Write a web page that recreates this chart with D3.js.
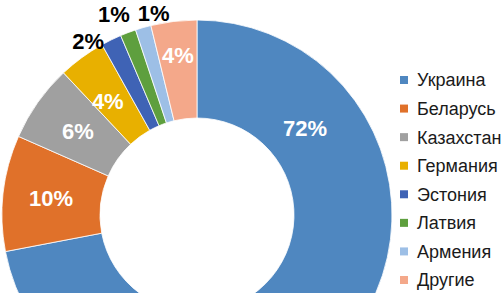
<!DOCTYPE html>
<html>
<head>
<meta charset="utf-8">
<script src="https://cdn.jsdelivr.net/npm/d3@7"></script>
<style>
  body { margin: 0; background: #fff; }
  svg { display: block; }
</style>
</head>
<body>
<svg id="chart" width="502" height="293"></svg>
<script>
// Daten
const countries = ['Украина', 'Беларусь', 'Казахстан', 'Германия', 'Эстония', 'Латвия', 'Армения', 'Другие'];
const shares = [72.0, 9.6, 6.4, 3.9, 1.7, 1.3, 1.3, 3.8];
const colors = ['#4f87c0', '#e0712a', '#a0a0a0', '#e8b000', '#3f63b5', '#5e9f3e', '#9dbfe6', '#f4a88a'];

const svg = d3.select('#chart');
const cx = 197, cy = 215, outerR = 195, innerR = 97;
const deg = Math.PI / 180;

const pie = d3.pie().sort(null).value((d) => d);
const arcs = pie(shares);
const arc = d3.arc().innerRadius(innerR).outerRadius(outerR);
const total = d3.sum(shares);

const g = svg.append('g').attr('transform', `translate(${cx},${cy})`);

g.selectAll('path')
  .data(arcs)
  .join('path')
  .attr('d', arc)
  .attr('fill', (d, i) => colors[i])
  .attr('stroke', '#fff')
  .attr('stroke-width', 0.8);

// Beschriftung: Winkelverschiebung (Grad) und Radius je Segment
const labelPos = [
  { shift: null, frac: 0.197, r: 139, color: '#fff' },
  { shift: 0, r: 147, color: '#fff' },
  { shift: 0, r: 146, color: '#fff' },
  { shift: -1.8, r: 145, color: '#fff' },
  { shift: -6, r: 205, color: '#000' },
  { shift: -1.8, r: 217, color: '#000' },
  { shift: 3.9, r: 207, color: '#000' },
  { shift: 0, r: 161, color: '#fff' },
];

g.selectAll('text.pct')
  .data(arcs)
  .join('text')
  .attr('class', 'pct')
  .attr('transform', (d, i) => {
    const p = labelPos[i];
    let a;
    if (p.shift === null) a = d.startAngle + p.frac * (d.endAngle - d.startAngle);
    else a = (d.startAngle + d.endAngle) / 2 + p.shift * deg;
    return `translate(${p.r * Math.sin(a)},${-p.r * Math.cos(a)})`;
  })
  .attr('text-anchor', 'middle')
  .attr('dy', '0.36em')
  .attr('font-family', 'Liberation Sans, Arial, sans-serif')
  .attr('font-weight', 'bold')
  .attr('font-size', 22)
  .attr('fill', (d, i) => labelPos[i].color)
  .text((d) => Math.round((d.value / total) * 100) + '%');

// Legende
const legendY = d3.scalePoint().domain(countries).range([80, 280]);

const legend = svg.append('g')
  .selectAll('g')
  .data(countries)
  .join('g')
  .attr('transform', (d) => `translate(400,${legendY(d)})`);

legend.append('rect')
  .attr('x', 0)
  .attr('y', -4)
  .attr('width', 8)
  .attr('height', 8)
  .attr('fill', (d, i) => colors[i]);

legend.append('text')
  .attr('x', 17)
  .attr('dy', '0.36em')
  .attr('font-family', 'Liberation Sans, Arial, sans-serif')
  .attr('font-size', 18)
  .attr('fill', '#1a1a1a')
  .text((d) => d);
</script>
</body>
</html>
